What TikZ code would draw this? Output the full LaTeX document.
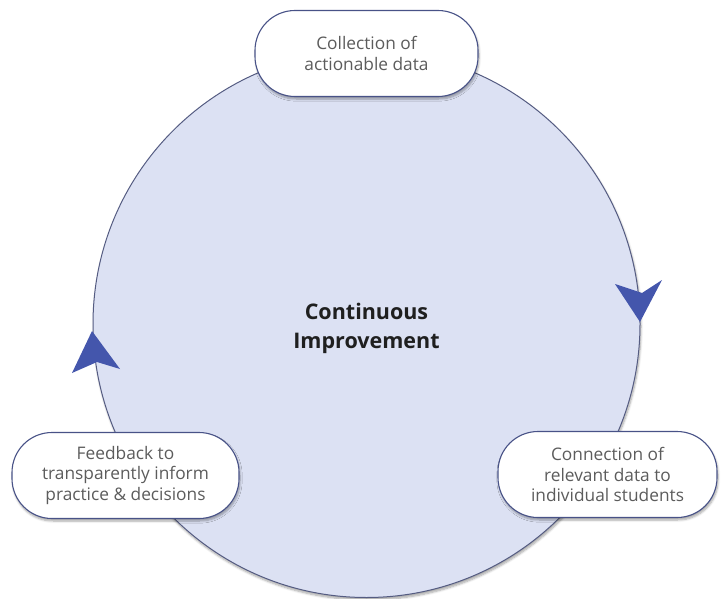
\documentclass[tikz,border=0pt]{standalone}
\usepackage{fontspec}
\setmainfont{Open Sans}
\usetikzlibrary{shadows.blur}
\definecolor{circfill}{RGB}{220,225,243}
\definecolor{circline}{RGB}{85,92,130}
\definecolor{boxline}{RGB}{72,82,135}
\definecolor{txtgray}{RGB}{92,92,92}
\definecolor{arrowblue}{RGB}{68,86,172}
\tikzset{
  pill/.style={draw=boxline, line width=1.1pt, fill=white, rounded corners=40pt,
    minimum height=86pt, align=center, text=txtgray, inner sep=0pt,
    font=\fontsize{17.3}{20.5}\selectfont,
    blur shadow={shadow xshift=1pt, shadow yshift=-2.5pt, shadow blur steps=6, shadow opacity=35}},
  bigcircle/.style={circle, draw=circline, line width=1pt, fill=circfill, minimum size=547pt,
    inner sep=0pt,
    blur shadow={shadow xshift=1pt, shadow yshift=-2.5pt, shadow blur steps=6, shadow opacity=35}},
  centertext/.style={align=center, font=\bfseries\fontsize{21.5}{29}\selectfont, text=black!88, inner sep=0pt},
  tipfill/.style={fill=arrowblue, draw=none}
}
\begin{document}
\begin{tikzpicture}[x=1pt,y=-1pt]
\useasboundingbox (0,0) rectangle (728,599);
\node[bigcircle] (c) at (366.5,324) {};
\node[centertext] (ctext) at (366.5,328) {Continuous\\Improvement};
% arrowheads on the circle
\fill[tipfill] (615,284) -- (642,293) -- (662,280) -- (640,322) -- cycle;
\fill[tipfill] (92,331) -- (120,369) -- (97,362) -- (72,373) -- cycle;
\node[pill, minimum width=223pt] (top) at (366.5,53.5) {Collection of\\actionable data};
\node[pill, minimum width=227pt] (left) at (125.5,475.5) {Feedback to\\transparently inform\\practice \& decisions};
\node[pill, minimum width=219pt] (right) at (607.5,474.5) {Connection of\\relevant data to\\individual students};
\end{tikzpicture}
\end{document}
